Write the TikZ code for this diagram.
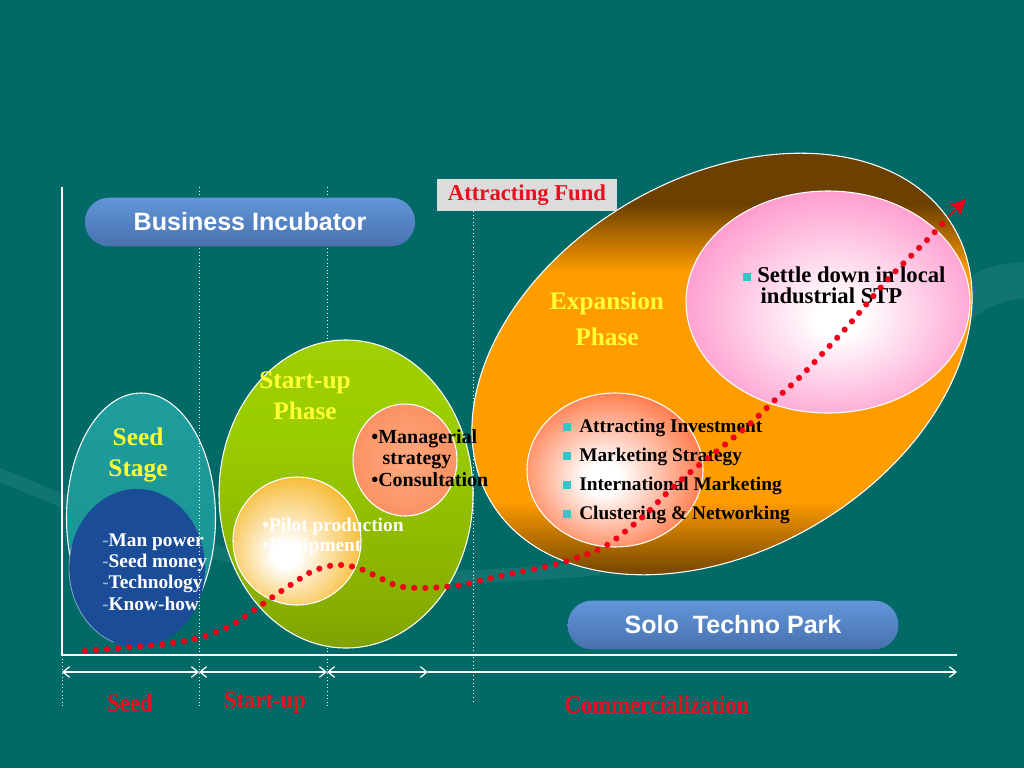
\documentclass[tikz,border=0pt]{standalone}
\usepackage{fontspec}
\setmainfont{Liberation Serif}
\newfontfamily\sansbold{Liberation Sans}[BoldFont={Liberation Sans Bold}]
\usetikzlibrary{arrows.meta,shapes.geometric}
\definecolor{bg}{HTML}{016A66}
\definecolor{seedtop}{HTML}{22A2A2}
\definecolor{seedbot}{HTML}{168C8C}
\definecolor{seedblue}{HTML}{1A4C97}
\definecolor{yel}{HTML}{FFFF33}
\definecolor{pilotout}{HTML}{F5AE10}
\definecolor{mgrin}{HTML}{FFA97E}
\definecolor{mgrout}{HTML}{F88A5C}
\definecolor{pinkout}{HTML}{FF8CC6}
\definecolor{invout}{HTML}{FF5A1E}
\definecolor{expbrownT}{HTML}{6C4000}
\definecolor{expbrownB}{HTML}{7E4C00}
\definecolor{exporange}{HTML}{FF9C00}
\definecolor{supA}{HTML}{5F6B00}
\definecolor{supB}{HTML}{86AC00}
\definecolor{supC}{HTML}{9ACD00}
\definecolor{supD}{HTML}{A8D50C}
\definecolor{pilltop}{HTML}{6EA9EF}
\definecolor{pillbot}{HTML}{3C5E98}
\definecolor{fundbox}{HTML}{DCDCDC}
\definecolor{lblred}{HTML}{E8101E}
\definecolor{dotred}{HTML}{F2001A}
\definecolor{bulc}{HTML}{33C6C6}
\pgfdeclareradialshading{pilotshade}{\pgfpoint{-5bp}{-6bp}}{color(0bp)=(white); color(5bp)=(white); color(33bp)=(pilotout); color(50bp)=(pilotout)}
\pgfdeclareradialshading{mgrshade}{\pgfpoint{0bp}{0bp}}{color(0bp)=(mgrin); color(34bp)=(mgrout); color(50bp)=(mgrout)}
\pgfdeclareradialshading{pinkshade}{\pgfpoint{2bp}{-4bp}}{color(0bp)=(white); color(4bp)=(white); color(31bp)=(pinkout); color(50bp)=(pinkout)}
\pgfdeclareradialshading{invshade}{\pgfpoint{-4bp}{-3bp}}{color(0bp)=(white); color(5bp)=(white); color(33bp)=(invout); color(50bp)=(invout)}
\pgfdeclareverticalshading{supshade}{100bp}{color(0bp)=(supA); color(30bp)=(supB); color(60bp)=(supC); color(100bp)=(supD)}
\pgfdeclareverticalshading{seedshade}{100bp}{color(0bp)=(seedbot); color(100bp)=(seedtop)}
\pgfdeclareverticalshading{pillshade}{100bp}{color(0bp)=(pillbot); color(100bp)=(pilltop)}
\newcommand{\sqb}{\textcolor{bulc}{\rule[0.8pt]{6pt}{6pt}}}
\tikzset{
  rim/.style={draw=white, line width=0.8pt},
  vdots/.style={draw=white, line width=0.7pt, dotted},
  phase/.style={text=yel, font=\bfseries\fontsize{19}{23.25}\selectfont, align=center, inner sep=0pt},
  pill/.style={rounded corners=18pt, shading=pillshade, minimum height=36.5pt, inner sep=0pt,
     text=white, font=\sansbold\bfseries\fontsize{18.8}{20}\selectfont},
  redlbl/.style={text=lblred, font=\bfseries\fontsize{17}{20}\selectfont, inner sep=0pt, yscale=1.12},
  barb/.style={draw=white, line width=0.9pt},
  listtxt/.style={font=\bfseries\fontsize{14.5}{16}\selectfont, align=left, inner sep=0pt},
  reddots/.style={draw=dotred, line width=4.6pt, line cap=round, dash pattern=on 0pt off 8.3pt},
  exptilt/.style={rotate around={30.7:(722,364)}}
}
\begin{document}
\begin{tikzpicture}[x=0.75pt,y=-0.75pt]
\useasboundingbox (0,0) rectangle (1024,768);
\fill[bg] (0,0) rectangle (1024,768);
% faint background swooshes
\fill[white, opacity=0.07] (0,468) .. controls (90,505) and (200,552) .. (330,566)
   .. controls (420,575) and (520,570) .. (600,560) -- (600,575)
   .. controls (500,585) and (400,585) .. (320,578) .. controls (200,566) and (90,520) .. (0,482) -- cycle;
\fill[white, opacity=0.07] (1024,262) .. controls (1000,262) and (975,270) .. (960,285)
   -- (960,330) .. controls (980,310) and (1000,300) .. (1024,298) -- cycle;

% seed stage
\path[shading=seedshade, rim] (141,518) ellipse [x radius=74.5, y radius=125];
\path[fill=seedblue] (137,568) ellipse [x radius=68, y radius=79];
\draw[white!55!seedblue, line width=0.7pt, opacity=0.8] (137,568) ++(110:68 and 79) arc[start angle=110, end angle=195, x radius=68, y radius=79];

% vertical dotted guides
\coordinate (g1t) at (199,187); \coordinate (g1b) at (199,707);
\coordinate (g2t) at (327,187); \coordinate (g2b) at (327,707);
\coordinate (g3t) at (473,211); \coordinate (g3b) at (473,702);
\coordinate (g0t) at (62,655);  \coordinate (g0b) at (62,707);
\draw[vdots] (g1t) -- (g1b);
\draw[vdots] (g2t) -- (g2b);
\draw[vdots] (g3t) -- (g3b);
\draw[vdots] (g0t) -- (g0b);

% start-up phase
\path[shading=supshade, rim] (346,494) ellipse [x radius=127, y radius=154];
\path[shading=mgrshade, rim] (405,460) ellipse [x radius=52, y radius=56];
\path[shading=pilotshade, rim] (297,541) ellipse [x radius=64, y radius=64];

% expansion phase: tilted ellipse, brown-orange-brown from top to bottom
\begin{scope}
  \clip[exptilt] (722,364) ellipse [x radius=269, y radius=186];
  \fill[expbrownT] (460,140) rectangle (990,206);
  \foreach \y in {204,206,...,270}{
    \pgfmathtruncatemacro\p{100*(272-\y)/68}
    \fill[expbrownT!\p!exporange] (460,\y) rectangle (990,\y+3);
  }
  \fill[exporange] (460,272) rectangle (990,502);
  \foreach \y in {500,502,...,580}{
    \pgfmathtruncatemacro\p{min(100,100*(\y-500)/68)}
    \fill[expbrownB!\p!exporange] (460,\y) rectangle (990,\y+3);
  }
\end{scope}
\draw[rim, exptilt] (722,364) ellipse [x radius=269, y radius=186];
\path[shading=pinkshade, rim] (828,302) ellipse [x radius=142, y radius=111];
\path[shading=invshade, rim] (615,470) ellipse [x radius=88, y radius=77];

% buttons
\node[pill, minimum width=247.5pt] (bi) at (250,222) {Business Incubator};
\node[pill, minimum width=248pt] (stp) at (733,625) {Solo\ \ Techno Park};
\node[fill=fundbox, minimum width=135pt, minimum height=24pt, inner sep=0pt,
      text=lblred, font=\bfseries\fontsize{17}{20}\selectfont] (fund) at (527,195) {Attracting Fund};

% axes
\coordinate (ax0) at (62,187); \coordinate (ax1) at (62,655); \coordinate (ax2) at (957,655);
\draw[white, line width=1.6pt] (ax0) -- (ax1) -- (ax2);

% stage arrows
\coordinate (t0) at (62,672); \coordinate (t1) at (199,672); \coordinate (t2) at (327,672);
\coordinate (t3) at (428,672); \coordinate (t4) at (957,672);
\draw[barb, {Straight Barb[length=5pt,width=8pt]}-{Straight Barb[length=5pt,width=8pt]}] (t0) -- (t1);
\draw[barb, {Straight Barb[length=5pt,width=8pt]}-{Straight Barb[length=5pt,width=8pt]}] (t1) -- (t2);
\draw[barb, {Straight Barb[length=5pt,width=8pt]}-{Straight Barb[length=5pt,width=8pt]}] (t2) -- (t3);
\draw[barb, -{Straight Barb[length=5pt,width=8pt]}] (t3) -- (t4);

\node[redlbl] (lseed) at (130,703) {Seed};
\node[redlbl] (lstart) at (265,703) {Start-up};
\node[redlbl] (lcomm) at (657,705) {Commercialization};

% texts
\node[phase] (seedtxt) at (138,455) {Seed\\Stage};
\node[phase] (suptxt) at (305,396) {Start-up\\Phase};
\node[phase, font=\bfseries\fontsize{19}{27}\selectfont] (exptxt) at (607,319) {Expansion\\Phase};

\node[listtxt, text=white, anchor=west] (seedlist) at (102,572)
  {{\color{white!55!seedblue}-}Man power\\{\color{white!55!seedblue}-}Seed money\\{\color{white!55!seedblue}-}Technology\\{\color{white!55!seedblue}-}Know-how};
\node[listtxt, text=black, anchor=west, font=\bfseries\fontsize{15}{16.2}\selectfont] (mgrlist) at (371,458)
  {•Managerial\\\hspace*{8.5pt}strategy\\•Consultation};
\node[listtxt, text=white, anchor=west, font=\bfseries\fontsize{14.5}{15}\selectfont] (pilotlist) at (262,537)
  {•Pilot production\\•Equipment};
\node[listtxt, text=black, anchor=west, font=\bfseries\fontsize{17}{15.5}\selectfont] (settle) at (743,285)
  {\sqb\hspace{4.5pt}Settle down in local\\\hspace*{13pt}industrial STP};
\node[listtxt, text=black, anchor=west, font=\bfseries\fontsize{14.5}{21.75}\selectfont] (invlist) at (563,471)
  {\sqb\hspace{6pt}Attracting Investment\\\sqb\hspace{6pt}Marketing Strategy\\\sqb\hspace{6pt}International Marketing\\\sqb\hspace{6pt}Clustering \& Networking};

% growth curve
\draw[reddots] plot[smooth, tension=0.55] coordinates {
 (85,651) (132,647) (165,644) (198,638) (230,626) (257,608) (277,594) (295,582)
 (313,571) (336,565) (358,568) (378,577) (398,586) (420,588) (443,587) (467,584)
 (487,579) (520,572) (553,565) (585,555) (607,545) (627,530) (647,513) (670,490)
 (693,470) (727,443) (752,422) (777,398) (800,377) (823,353) (847,327) (870,300)
 (892,275) (917,250) (932,235) (945,221)};
\coordinate (ah0) at (948,217); \coordinate (ah1) at (966,199);
\draw[dotred, line width=1.2pt, -{Stealth[length=13pt,width=12pt]}] (ah0) -- (ah1);
\end{tikzpicture}
\end{document}
